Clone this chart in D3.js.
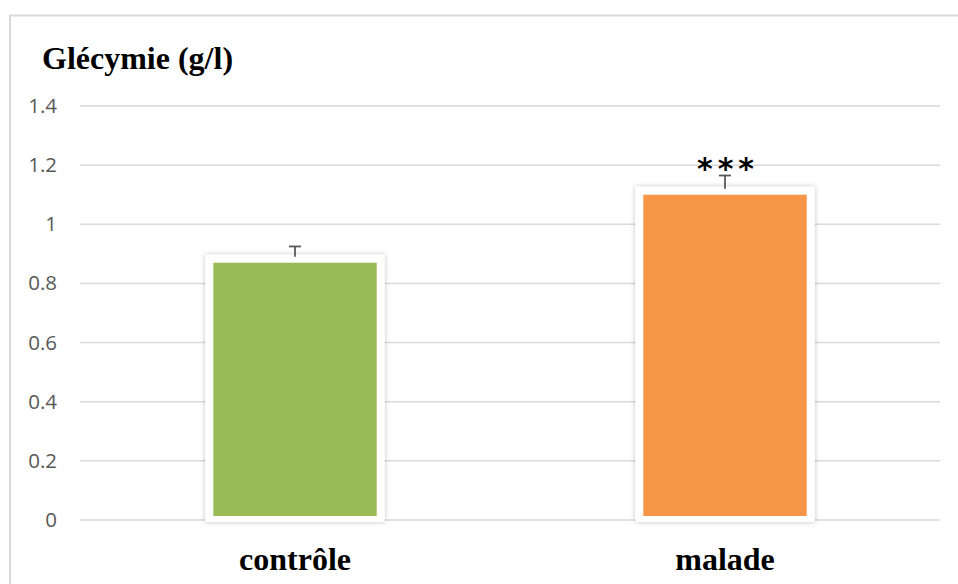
<!DOCTYPE html>
<html>
<head>
<meta charset="utf-8">
<script src="https://cdn.jsdelivr.net/npm/d3@7"></script>
<style>
  html, body { margin: 0; padding: 0; background: #fff; }
  svg { display: block; }
</style>
</head>
<body>
<svg id="chart" width="958" height="584"></svg>
<script>
// Glycaemia by group (g/l), with standard error
const categories = ["contrôle", "malade"];
const values = [0.87, 1.10];
const errors = [0.055, 0.065];
const colors = ["#9BBB59", "#F79646"];
const significance = ["", "***"];
const yTicks = [0, 0.2, 0.4, 0.6, 0.8, 1, 1.2, 1.4];
const yTickLabels = ["0", "0.2", "0.4", "0.6", "0.8", "1", "1.2", "1.4"];
const title = "Glécymie (g/l)";

const svg = d3.select("#chart");
const W = 958, H = 584;
const plot = { left: 80, right: 940, top: 106, bottom: 520 };

// Outer chart frame (top and left edges visible)
svg.append("path")
  .attr("d", `M10,${H + 2} L10,15.5 L${W + 2},15.5`)
  .attr("fill", "none")
  .attr("stroke", "#d9d9d9")
  .attr("stroke-width", 2);

const defs = svg.append("defs");
const f = defs.append("filter").attr("id", "barShadow")
  .attr("x", "-10%").attr("y", "-10%").attr("width", "120%").attr("height", "120%");
f.append("feDropShadow")
  .attr("dx", 0).attr("dy", 0).attr("stdDeviation", 2.5)
  .attr("flood-color", "#000").attr("flood-opacity", 0.25);

const x = d3.scaleBand()
  .domain(categories)
  .range([plot.left, plot.right])
  .paddingInner(0.62)
  .paddingOuter(0.31);

const y = d3.scaleLinear().domain([0, 1.4]).range([plot.bottom, plot.top]);

// Gridlines
svg.append("g")
  .selectAll("line")
  .data(yTicks)
  .join("line")
  .attr("x1", plot.left).attr("x2", plot.right)
  .attr("y1", d => y(d)).attr("y2", d => y(d))
  .attr("stroke", "#d9d9d9").attr("stroke-width", 1.5);

// Y axis labels
const yAxis = d3.axisLeft(y)
  .tickValues(yTicks)
  .tickFormat((d, i) => yTickLabels[i])
  .tickSize(0)
  .tickPadding(0);
const gy = svg.append("g").attr("transform", "translate(57,0)").call(yAxis);
gy.select(".domain").remove();
gy.selectAll("text")
  .attr("fill", "#595959")
  .attr("font-family", "'Open Sans', 'Liberation Sans', sans-serif")
  .attr("font-size", 20.5);

const bw = x.bandwidth();
const pad = 8;

// White backing with soft shadow behind each bar
svg.append("g")
  .selectAll("rect")
  .data(categories)
  .join("rect")
  .attr("x", d => x(d) - pad)
  .attr("y", (d, i) => y(values[i]) - pad)
  .attr("width", bw + 2 * pad)
  .attr("height", (d, i) => y(0) - y(values[i]) + pad + 2)
  .attr("fill", "#fff")
  .attr("filter", "url(#barShadow)");

// Error bars (upper part)
const eg = svg.append("g").attr("stroke", "#595959").attr("stroke-width", 1.8);
categories.forEach((c, i) => {
  const cx = x(c) + bw / 2;
  eg.append("line")
    .attr("x1", cx).attr("x2", cx)
    .attr("y1", y(values[i] + errors[i])).attr("y2", y(values[i]) - pad + 2);
  eg.append("line")
    .attr("x1", cx - 6).attr("x2", cx + 6)
    .attr("y1", y(values[i] + errors[i])).attr("y2", y(values[i] + errors[i]));
});

// Bars
svg.append("g")
  .selectAll("rect")
  .data(categories)
  .join("rect")
  .attr("x", d => x(d))
  .attr("y", (d, i) => y(values[i]))
  .attr("width", bw)
  .attr("height", (d, i) => y(0) - y(values[i]) - 4)
  .attr("fill", (d, i) => colors[i]);

// Significance markers
svg.append("g")
  .selectAll("text")
  .data(categories)
  .join("text")
  .attr("x", d => x(d) + bw / 2 + 3)
  .attr("y", (d, i) => y(values[i] + errors[i]) + 4)
  .attr("text-anchor", "middle")
  .attr("font-family", "'DejaVu Sans', sans-serif")
  .attr("font-weight", "bold")
  .attr("font-size", 30)
  .attr("letter-spacing", 5)
  .attr("fill", "#000")
  .text((d, i) => significance[i]);

// Category labels
svg.append("g")
  .selectAll("text")
  .data(categories)
  .join("text")
  .attr("x", d => x(d) + bw / 2)
  .attr("y", 570)
  .attr("text-anchor", "middle")
  .attr("font-family", "'Liberation Serif', 'Times New Roman', serif")
  .attr("font-weight", "bold")
  .attr("font-size", 32)
  .attr("fill", "#000")
  .text(d => d);

// Title
svg.append("text")
  .attr("x", 42).attr("y", 69)
  .attr("font-family", "'Liberation Serif', 'Times New Roman', serif")
  .attr("font-weight", "bold")
  .attr("font-size", 32)
  .attr("fill", "#000")
  .text(title);
</script>
</body>
</html>
